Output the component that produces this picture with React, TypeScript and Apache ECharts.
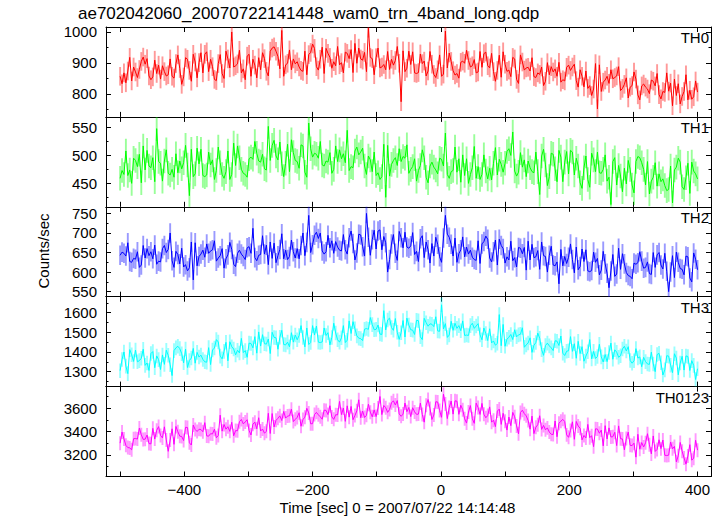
import React, { useEffect, useRef } from "react";
import * as echarts from "echarts";

const titleText = "ae702042060_20070722141448_wam0_trn_4band_long.qdp";
const xAxisName = "Time [sec] 0 = 2007/07/22 14:14:48";
const yAxisName = "Counts/sec";
const bandNames = ["TH0", "TH1", "TH2", "TH3", "TH0123"];
const bandColors = ["#ff0000", "#00ff00", "#0000ff", "#00ffff", "#ff00ff"];

// time grid of the light curves (seconds from 2007/07/22 14:14:48)
const timeStart = -500;
const timeStep = 3;

const th0 = [
  857, 833, 868, 836, 874, 918, 842, 887, 871, 853,
  879, 905, 919, 896, 914, 858, 846, 855, 909, 866,
  893, 848, 891, 872, 858, 862, 913, 857, 851, 898,
  926, 882, 831, 855, 917, 912, 876, 841, 928, 903,
  852, 901, 933, 868, 928, 936, 872, 912, 888, 847,
  843, 898, 927, 866, 850, 938, 913, 884, 1000, 887,
  891, 897, 941, 868, 881, 846, 922, 928, 857, 912,
  893, 852, 917, 878, 933, 914, 873, 858, 938, 948,
  952, 938, 921, 881, 1005, 857, 894, 899, 942, 878,
  913, 897, 904, 887, 876, 873, 938, 862, 927, 934,
  961, 947, 888, 877, 912, 951, 866, 947, 931, 918,
  883, 904, 891, 953, 894, 901, 868, 935, 931, 914,
  943, 869, 963, 899, 948, 913, 909, 934, 872, 1012,
  918, 914, 862, 917, 948, 884, 887, 895, 878, 937,
  879, 912, 893, 908, 953, 899, 775, 939, 872, 883,
  938, 895, 936, 868, 866, 869, 929, 898, 906, 858,
  874, 937, 896, 863, 853, 878, 926, 857, 864, 1003,
  884, 932, 905, 875, 861, 866, 851, 902, 906, 899,
  941, 908, 887, 891, 911, 868, 871, 937, 886, 930,
  935, 891, 884, 931, 872, 841, 876, 925, 854, 936,
  896, 873, 877, 856, 918, 913, 847, 834, 926, 903,
  877, 884, 886, 874, 917, 856, 853, 868, 863, 887,
  827, 841, 901, 862, 888, 871, 881, 857, 902, 838,
  846, 842, 886, 893, 876, 887, 896, 843, 822, 878,
  857, 823, 874, 818, 827, 795, 816, 898, 752, 894,
  808, 838, 845, 857, 834, 878, 849, 853, 858, 888,
  811, 818, 831, 852, 787, 822, 827, 871, 848, 797,
  781, 826, 832, 822, 816, 801, 845, 841, 826, 866,
  798, 784, 808, 805, 868, 809, 835, 762, 848, 795,
  833, 768, 792, 808, 862, 781, 812, 783, 791, 842,
  806,
];

const th1 = [
  459, 473, 466, 508, 464, 474, 450, 495, 491, 480,
  502, 451, 517, 474, 509, 481, 478, 496, 453, 548,
  489, 486, 454, 490, 510, 468, 465, 475, 461, 503,
  469, 490, 476, 487, 518, 483, 428, 511, 462, 467,
  513, 485, 511, 464, 462, 465, 506, 483, 492, 457,
  473, 515, 487, 466, 459, 471, 508, 457, 466, 522,
  482, 517, 496, 475, 468, 466, 461, 494, 497, 493,
  525, 504, 490, 488, 502, 476, 474, 552, 491, 518,
  527, 499, 492, 524, 485, 462, 486, 520, 471, 528,
  505, 491, 489, 477, 519, 517, 470, 461, 558, 512,
  497, 504, 502, 495, 525, 483, 481, 490, 488, 505,
  468, 475, 517, 489, 510, 494, 503, 487, 545, 473,
  480, 478, 508, 515, 501, 506, 513, 481, 466, 499,
  492, 471, 506, 464, 469, 457, 462, 520, 425, 518,
  463, 484, 491, 496, 482, 512, 489, 498, 495, 519,
  468, 475, 480, 494, 454, 473, 482, 510, 496, 461,
  451, 481, 488, 479, 474, 467, 495, 493, 481, 540,
  466, 459, 471, 473, 515, 470, 494, 452, 501, 464,
  494, 450, 466, 478, 516, 459, 480, 457, 466, 501,
  472, 458, 477, 456, 486, 514, 465, 493, 484, 470,
  486, 507, 512, 500, 542, 472, 463, 470, 505, 479,
  492, 462, 490, 478, 471, 469, 506, 471, 430, 499,
  511, 483, 446, 462, 504, 502, 476, 453, 509, 497,
  453, 488, 507, 467, 509, 506, 465, 495, 481, 451,
  441, 478, 499, 457, 443, 504, 492, 471, 506, 469,
  468, 475, 501, 454, 461, 412, 489, 496, 447, 482,
  463, 435, 477, 449, 491, 475, 447, 433, 489, 498,
  496, 487, 475, 447, 489, 431, 454, 461, 487, 445,
  467, 453, 458, 446, 437, 439, 481, 415, 474, 479,
  495, 488, 444, 439, 460, 486, 432, 488, 472, 467,
  458,
];

const th2 = [
  643, 651, 648, 641, 675, 627, 625, 635, 633, 652,
  612, 618, 668, 636, 660, 642, 652, 634, 669, 620,
  628, 626, 660, 668, 650, 658, 700, 629, 612, 653,
  645, 621, 661, 613, 619, 603, 611, 677, 580, 675,
  616, 640, 646, 656, 638, 672, 648, 654, 657, 680,
  628, 636, 642, 660, 610, 634, 644, 676, 658, 620,
  614, 648, 656, 646, 640, 632, 662, 665, 648, 712,
  637, 629, 643, 645, 693, 646, 669, 619, 677, 635,
  674, 624, 642, 658, 698, 634, 656, 632, 640, 682,
  652, 636, 660, 634, 668, 700, 642, 676, 745, 650,
  670, 694, 702, 686, 700, 654, 646, 652, 694, 662,
  680, 648, 678, 664, 656, 654, 696, 657, 646, 688,
  705, 673, 631, 649, 697, 695, 665, 641, 750, 689,
  643, 683, 707, 659, 705, 708, 657, 691, 675, 600,
  632, 672, 696, 648, 630, 704, 688, 662, 702, 664,
  661, 667, 701, 645, 653, 627, 685, 693, 637, 677,
  657, 623, 673, 641, 689, 671, 639, 625, 687, 745,
  697, 689, 671, 641, 687, 625, 647, 657, 690, 639,
  664, 646, 656, 638, 632, 630, 680, 622, 672, 678,
  692, 684, 636, 626, 652, 682, 618, 684, 668, 660,
  623, 639, 631, 679, 629, 637, 613, 663, 661, 647,
  663, 605, 679, 631, 671, 637, 639, 655, 607, 677,
  642, 640, 600, 643, 666, 618, 616, 626, 570, 658,
  616, 640, 622, 638, 672, 632, 598, 664, 606, 614,
  659, 627, 657, 603, 601, 604, 651, 625, 635, 593,
  605, 653, 621, 597, 560, 603, 645, 589, 595, 661,
  607, 647, 621, 599, 591, 589, 583, 623, 620, 624,
  652, 628, 610, 612, 626, 596, 594, 650, 612, 644,
  650, 618, 608, 648, 602, 550, 600, 642, 586, 651,
  625, 609, 607, 593, 641, 639, 585, 575, 649, 633,
  606,
];

const th3 = [
  1305, 1362, 1400, 1328, 1290, 1412, 1386, 1352, 1410, 1350,
  1356, 1368, 1414, 1332, 1344, 1306, 1392, 1402, 1320, 1380,
  1361, 1311, 1385, 1337, 1409, 1383, 1335, 1280, 1407, 1421,
  1429, 1417, 1391, 1345, 1415, 1321, 1357, 1369, 1418, 1343,
  1398, 1374, 1384, 1362, 1350, 1348, 1422, 1336, 1410, 1420,
  1463, 1451, 1379, 1365, 1403, 1449, 1355, 1452, 1427, 1415,
  1385, 1409, 1395, 1469, 1397, 1407, 1373, 1445, 1443, 1421,
  1478, 1394, 1502, 1430, 1488, 1442, 1440, 1466, 1392, 1500,
  1474, 1472, 1414, 1475, 1510, 1438, 1436, 1450, 1426, 1498,
  1450, 1486, 1462, 1484, 1534, 1474, 1426, 1522, 1438, 1448,
  1534, 1486, 1532, 1450, 1448, 1451, 1522, 1484, 1498, 1436,
  1474, 1546, 1496, 1462, 1450, 1472, 1534, 1448, 1460, 1558,
  1494, 1554, 1518, 1482, 1470, 1468, 1458, 1516, 1519, 1515,
  1575, 1539, 1513, 1515, 1537, 1491, 1489, 1610, 1512, 1563,
  1572, 1524, 1510, 1570, 1500, 1464, 1498, 1560, 1476, 1572,
  1537, 1513, 1511, 1489, 1561, 1559, 1477, 1463, 1571, 1549,
  1531, 1543, 1541, 1529, 1579, 1507, 1505, 1640, 1517, 1544,
  1474, 1486, 1556, 1510, 1546, 1520, 1534, 1508, 1558, 1484,
  1486, 1484, 1534, 1546, 1520, 1532, 1544, 1487, 1462, 1522,
  1494, 1458, 1518, 1446, 1456, 1434, 1444, 1590, 1432, 1540,
  1429, 1465, 1475, 1489, 1463, 1513, 1477, 1487, 1490, 1523,
  1424, 1436, 1446, 1472, 1398, 1434, 1448, 1496, 1470, 1412,
  1383, 1433, 1445, 1431, 1421, 1407, 1457, 1455, 1433, 1481,
  1394, 1382, 1404, 1406, 1478, 1403, 1442, 1368, 1454, 1392,
  1427, 1353, 1379, 1401, 1463, 1365, 1403, 1367, 1377, 1439,
  1375, 1349, 1387, 1351, 1397, 1445, 1363, 1411, 1399, 1373,
  1381, 1415, 1429, 1405, 1427, 1357, 1343, 1355, 1417, 1369,
  1375, 1325, 1373, 1351, 1339, 1337, 1399, 1339, 1300, 1387,
  1393, 1345, 1283, 1309, 1381, 1379, 1333, 1295, 1391, 1369,
  1284, 1344, 1378, 1308, 1380, 1377, 1306, 1356, 1332, 1260,
  1315,
];

const th0123 = [
  3300, 3395, 3336, 3281, 3262, 3259, 3243, 3338, 3340, 3335,
  3429, 3372, 3332, 3334, 3370, 3296, 3294, 3427, 3335, 3410,
  3442, 3366, 3345, 3440, 3328, 3230, 3326, 3423, 3290, 3443,
  3398, 3360, 3357, 3322, 3436, 3434, 3303, 3284, 3455, 3417,
  3400, 3419, 3417, 3398, 3476, 3362, 3360, 3381, 3379, 3420,
  3346, 3365, 3540, 3403, 3460, 3420, 3441, 3401, 3479, 3363,
  3408, 3406, 3484, 3503, 3465, 3482, 3501, 3409, 3370, 3463,
  3480, 3423, 3518, 3404, 3421, 3385, 3402, 3556, 3383, 3554,
  3439, 3496, 3513, 3534, 3494, 3572, 3515, 3532, 3535, 3591,
  3485, 3504, 3521, 3561, 3445, 3502, 3523, 3599, 3559, 3466,
  3467, 3545, 3564, 3543, 3526, 3505, 3583, 3581, 3545, 3621,
  3525, 3504, 3544, 3542, 3658, 3545, 3601, 3487, 3620, 3523,
  3615, 3501, 3537, 3577, 3672, 3518, 3575, 3520, 3539, 3634,
  3566, 3526, 3585, 3528, 3602, 3700, 3545, 3623, 3604, 3564,
  3589, 3646, 3663, 3627, 3665, 3551, 3530, 3549, 3644, 3570,
  3606, 3528, 3604, 3568, 3547, 3549, 3644, 3546, 3480, 3625,
  3674, 3598, 3503, 3541, 3655, 3653, 3579, 3522, 3720, 3636,
  3511, 3606, 3661, 3549, 3663, 3660, 3547, 3625, 3587, 3509,
  3472, 3567, 3622, 3510, 3470, 3643, 3605, 3546, 3641, 3548,
  3518, 3537, 3611, 3480, 3497, 3442, 3575, 3592, 3461, 3556,
  3488, 3412, 3524, 3450, 3564, 3526, 3448, 3380, 3562, 3583,
  3553, 3534, 3494, 3420, 3532, 3382, 3437, 3458, 3535, 3418,
  3452, 3414, 3431, 3395, 3376, 3374, 3490, 3355, 3471, 3488,
  3504, 3485, 3371, 3350, 3409, 3483, 3333, 3486, 3447, 3428,
  3328, 3366, 3345, 3461, 3347, 3364, 3270, 3423, 3421, 3385,
  3412, 3277, 3450, 3336, 3431, 3353, 3355, 3393, 3279, 3448,
  3338, 3336, 3243, 3339, 3395, 3281, 3279, 3300, 3180, 3376,
  3248, 3305, 3267, 3303, 3381, 3286, 3208, 3362, 3229, 3246,
  3329, 3253, 3327, 3196, 3194, 3197, 3310, 3251, 3272, 3140,
  3192, 3306, 3230, 3173, 3120, 3190, 3287, 3154, 3171, 3325,
  3240,
];

const bandValues = [th0, th1, th2, th3, th0123];
const bandErrors = [30, 22, 25, 37, 60];

const xMin = -522;
const xMax = 421;
const xTickValues = [-500, -400, -300, -200, -100, 0, 100, 200, 300, 400];
const xLabelValues = [-400, -200, 0, 200, 400];

const yMins = [726, 408, 537, 1224, 3014];
const yMaxs = [1016, 569, 767, 1681, 3785];
const yLabelValues = [
  [800, 900, 1000],
  [450, 500, 550],
  [550, 600, 650, 700, 750],
  [1300, 1400, 1500, 1600],
  [3200, 3400, 3600],
];
const yMinorSteps = [50, 25, 25, 50, 100];

const FONT = "'Liberation Sans', Arial, Helvetica, sans-serif";
const PANEL_TOP = 27;
const PANEL_H = 89.9;
const GRID_LEFT = 106;
const GRID_RIGHT = 13;

function minorTicks(min: number, max: number, step: number): number[] {
  const out: number[] = [];
  for (let v = Math.ceil(min / step) * step; v <= max; v += step) out.push(v);
  return out;
}

function fmtX(v: number): string {
  return v < 0 ? "\u2212" + Math.abs(v) : String(v);
}

function buildOption() {
  const times = th0.map((_, k) => timeStart + k * timeStep);
  const grids: any[] = [];
  const xAxes: any[] = [];
  const yAxes: any[] = [];
  const series: any[] = [];
  const graphics: any[] = [];
  const black = { color: "#000", width: 1 };

  for (let i = 0; i < 5; i++) {
    const top = PANEL_TOP + i * PANEL_H;
    grids.push({ left: GRID_LEFT, right: GRID_RIGHT, top, height: PANEL_H });

    ["bottom", "top"].forEach((pos) => {
      const isLabelAxis = pos === "bottom" && i === 4;
      xAxes.push({
        type: "value",
        gridIndex: i,
        position: pos,
        min: xMin,
        max: xMax,
        axisLine: { show: true, onZero: false, lineStyle: black },
        axisTick: { show: true, inside: true, length: 5, customValues: xTickValues, lineStyle: black },
        axisLabel: {
          show: isLabelAxis,
          customValues: xLabelValues,
          formatter: fmtX,
          color: "#000",
          fontSize: 15,
          fontFamily: FONT,
          margin: 5,
        },
        splitLine: { show: false },
        name: isLabelAxis ? xAxisName : "",
        nameLocation: "middle",
        nameGap: 23,
        nameTextStyle: { color: "#000", fontSize: 15, fontFamily: FONT, padding: [0, 22, 0, 0] },
      });
    });

    const minors = minorTicks(yMins[i], yMaxs[i], yMinorSteps[i]);
    ["left", "right"].forEach((pos) => {
      yAxes.push({
        type: "value",
        gridIndex: i,
        position: pos,
        min: yMins[i],
        max: yMaxs[i],
        axisLine: { show: true, onZero: false, lineStyle: black },
        axisTick: { show: true, inside: true, length: 5, customValues: yLabelValues[i], lineStyle: black },
        axisLabel: {
          show: pos === "left",
          customValues: yLabelValues[i],
          formatter: (v: number) => String(v),
          color: "#000",
          fontSize: 15,
          fontFamily: FONT,
          margin: 9,
        },
        splitLine: { show: false },
      });
      yAxes.push({
        type: "value",
        gridIndex: i,
        position: pos,
        min: yMins[i],
        max: yMaxs[i],
        axisLine: { show: false, onZero: false },
        axisTick: { show: true, inside: true, length: 2.5, customValues: minors, lineStyle: black },
        axisLabel: { show: false },
        splitLine: { show: false },
      });
    });

    const color = bandColors[i];
    const err = bandErrors[i];
    const vals = bandValues[i];
    series.push({
      type: "custom",
      name: bandNames[i] + " error",
      coordinateSystem: "cartesian2d",
      xAxisIndex: 2 * i,
      yAxisIndex: 4 * i,
      clip: true,
      silent: true,
      z: 1,
      data: vals.map((v, k) => [times[k], v, err]),
      renderItem: (params: any, api: any) => {
        const x = api.value(0);
        const y = api.value(1);
        const e = api.value(2);
        const p1 = api.coord([x, y - e]);
        const p2 = api.coord([x, y + e]);
        return {
          type: "line",
          shape: { x1: p1[0], y1: p1[1], x2: p2[0], y2: p2[1] },
          style: { stroke: color, lineWidth: 1.9, opacity: 0.4 },
        };
      },
    });
    series.push({
      type: "line",
      name: bandNames[i],
      xAxisIndex: 2 * i,
      yAxisIndex: 4 * i,
      data: vals.map((v, k) => [times[k], v]),
      symbol: "none",
      clip: true,
      z: 2,
      lineStyle: { color, width: 1 },
      itemStyle: { color },
    });

    graphics.push({
      type: "text",
      x: 709,
      y: top + 3,
      style: {
        text: bandNames[i],
        align: "right",
        verticalAlign: "top",
        fill: "#000",
        fontSize: 15,
        fontFamily: FONT,
      },
    });
  }

  graphics.push({
    type: "text",
    x: 43,
    y: 251,
    rotation: Math.PI / 2,
    style: {
      text: yAxisName,
      align: "center",
      verticalAlign: "middle",
      fill: "#000",
      fontSize: 15,
      fontFamily: FONT,
    },
  });

  return {
    animation: false,
    backgroundColor: "#fff",
    title: {
      text: titleText,
      left: 78,
      top: 5,
      padding: 0,
      textStyle: { color: "#000", fontSize: 17, fontWeight: "normal", fontFamily: FONT },
    },
    grid: grids,
    xAxis: xAxes,
    yAxis: yAxes,
    series,
    graphic: graphics,
  };
}

export default function App() {
  const ref = useRef<HTMLDivElement>(null);
  useEffect(() => {
    if (!ref.current) return;
    const chart = echarts.init(ref.current, null, { renderer: "svg" });
    chart.setOption(buildOption());
    return () => chart.dispose();
  }, []);
  return (
    <div
      ref={ref}
      style={{ position: "fixed", left: 0, top: 0, width: 724, height: 516, background: "#fff" }}
    />
  );
}
